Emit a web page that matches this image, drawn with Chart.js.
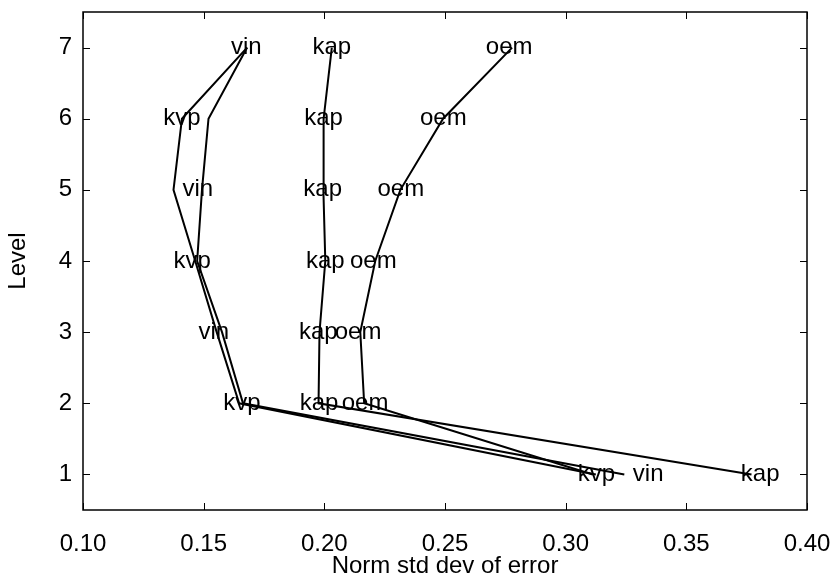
<!DOCTYPE html>
<html>
<head>
<meta charset="utf-8">
<script src="https://cdn.jsdelivr.net/npm/chart.js@4.4.1/dist/chart.umd.min.js"></script>
<style>
  html, body { margin: 0; padding: 0; background: #fff; }
  #wrap { width: 830px; height: 582px; }
</style>
</head>
<body>
<div id="wrap"><canvas id="c" width="830" height="582"></canvas></div>
<script>
// Normalised std dev of error per level, one curve per method
const levels = [1, 2, 3, 4, 5, 6, 7];
const kvp = [0.3125, 0.1647, 0.1554, 0.1465, 0.1375, 0.1410, 0.1680];
const vin = [0.3243, 0.1663, 0.1576, 0.1473, 0.1493, 0.1520, 0.1680];
const kap = [0.3770, 0.1976, 0.1980, 0.2004, 0.1996, 0.1997, 0.2031];
const oem = [0.3112, 0.2165, 0.2149, 0.2211, 0.2315, 0.2492, 0.2778];

// name tags written on the curves: [level, x]
const kvpTags = [[1, 0.3127], [2, 0.1659], [4, 0.1452], [6, 0.1410]];
const vinTags = [[1, 0.3342], [3, 0.1542], [5, 0.1476], [7, 0.1677]];
const kapTags = [[1, 0.3806], [2, 0.1978], [3, 0.1975], [4, 0.2004], [5, 0.1993], [6, 0.1997], [7, 0.2031]];
const oemTags = [[2, 0.2169], [3, 0.2140], [4, 0.2203], [5, 0.2317], [6, 0.2493], [7, 0.2766]];

const xTicks = [0.10, 0.15, 0.20, 0.25, 0.30, 0.35, 0.40];
const yTicks = [1, 2, 3, 4, 5, 6, 7];

const FONT = '"Liberation Sans", Arial, Helvetica, sans-serif';
const FS = 24;

function curve(name, xs) {
  return {
    label: name,
    data: levels.map((lv, i) => ({ x: xs[i], y: lv })),
    showLine: true,
    borderColor: '#000',
    borderWidth: 2,
    pointRadius: 0,
    pointHoverRadius: 0,
    tension: 0,
    fill: false
  };
}

const tagSets = [
  { name: 'kvp', tags: kvpTags },
  { name: 'vin', tags: vinTags },
  { name: 'kap', tags: kapTags },
  { name: 'oem', tags: oemTags }
];

// frame with inward ticks on all four sides, plus the name tags
const framePlugin = {
  id: 'frameAndTags',
  afterDatasetsDraw(chart) {
    const { ctx, chartArea: a, scales } = chart;
    const sx = scales.x, sy = scales.y;
    const tick = 7;
    ctx.save();
    ctx.strokeStyle = '#000';
    ctx.lineWidth = 1;
    ctx.beginPath();
    yTicks.forEach(v => {
      const py = Math.round(sy.getPixelForValue(v)) + 0.5;
      ctx.moveTo(a.left, py); ctx.lineTo(a.left + tick, py);
      ctx.moveTo(a.right, py); ctx.lineTo(a.right - tick, py);
    });
    xTicks.forEach(v => {
      const px = Math.round(sx.getPixelForValue(v)) + 0.5;
      ctx.moveTo(px, a.bottom); ctx.lineTo(px, a.bottom - tick);
      ctx.moveTo(px, a.top); ctx.lineTo(px, a.top + tick);
    });
    ctx.stroke();
    ctx.lineWidth = 1.5;
    ctx.strokeRect(a.left, a.top, a.right - a.left, a.bottom - a.top);

    ctx.fillStyle = '#000';
    ctx.font = FS + 'px ' + FONT;
    ctx.textAlign = 'center';
    ctx.textBaseline = 'middle';
    tagSets.forEach(set => {
      set.tags.forEach(([lv, xv]) => {
        ctx.fillText(set.name, sx.getPixelForValue(xv), sy.getPixelForValue(lv));
      });
    });
    ctx.restore();
  }
};

new Chart(document.getElementById('c'), {
  type: 'scatter',
  data: {
    datasets: [curve('kvp', kvp), curve('vin', vin), curve('kap', kap), curve('oem', oem)]
  },
  options: {
    responsive: false,
    animation: false,
    devicePixelRatio: 1,
    layout: { padding: { top: 12, right: 23, bottom: 0, left: 0 } },
    plugins: { legend: { display: false }, tooltip: { enabled: false } },
    scales: {
      x: {
        type: 'linear',
        min: 0.10, max: 0.40,
        grid: { display: false, drawTicks: false },
        border: { display: false },
        afterFit(s) { s.height = 72; s.paddingLeft = 0; s.paddingRight = 0; },
        afterBuildTicks(s) { s.ticks = xTicks.map(v => ({ value: v })); },
        ticks: {
          autoSkip: false, maxRotation: 0, padding: 20,
          color: '#000', font: { family: FONT, size: FS },
          callback: v => Number(v).toFixed(2)
        },
        title: {
          display: true, text: 'Norm std dev of error',
          color: '#000', font: { family: FONT, size: FS },
          padding: { top: 0, bottom: 1 }
        }
      },
      y: {
        type: 'linear',
        min: 0.5, max: 7.5,
        grid: { display: false, drawTicks: false },
        border: { display: false },
        afterFit(s) { s.width = 83; s.paddingTop = 0; s.paddingBottom = 0; },
        afterBuildTicks(s) { s.ticks = yTicks.map(v => ({ value: v })); },
        ticks: {
          autoSkip: false, padding: 11,
          color: '#000', font: { family: FONT, size: FS },
          callback: v => String(v)
        },
        title: {
          display: true, text: 'Level',
          color: '#000', font: { family: FONT, size: FS },
          padding: { top: 4, bottom: 0 }
        }
      }
    }
  },
  plugins: [framePlugin]
});
</script>
</body>
</html>
